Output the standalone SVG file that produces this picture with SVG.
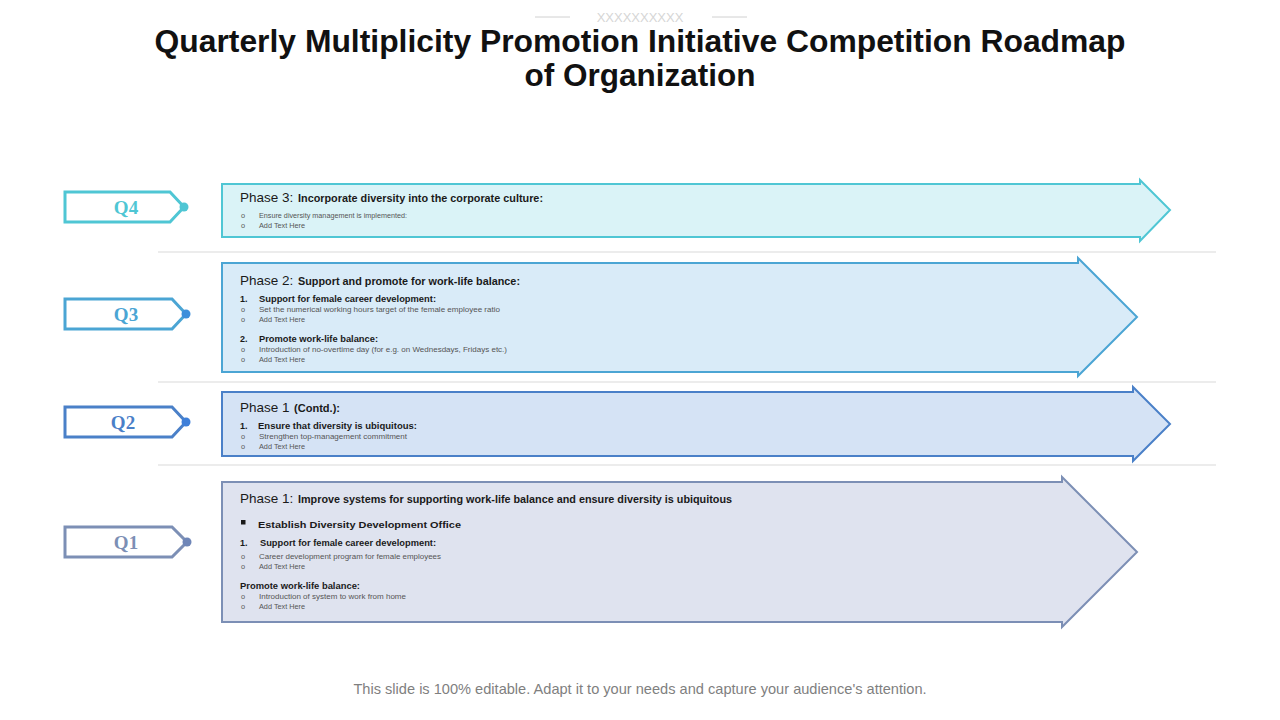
<svg xmlns="http://www.w3.org/2000/svg" width="1280" height="720" viewBox="0 0 1280 720">
<style>
.title{font-family:"Liberation Sans",Arial,sans-serif;font-weight:bold;font-size:31.5px;fill:#111;text-anchor:middle}
.ph{font-family:"Liberation Sans",Arial,sans-serif;font-size:13.5px;fill:#1a1a1a}
.phb{font-family:"Liberation Sans",Arial,sans-serif;font-size:11px;font-weight:bold;fill:#1a1a1a}
.sub{font-family:"Liberation Sans",Arial,sans-serif;font-size:9px;font-weight:bold;fill:#1a1a1a}
.sm{font-family:"Liberation Sans",Arial,sans-serif;font-size:7.3px;fill:#555}
.q{font-family:"Liberation Serif","DejaVu Serif",serif;font-weight:bold;font-size:19px;text-anchor:middle}
.sep{stroke:#d9d9d9;stroke-width:1}
.foot{font-family:"Liberation Sans",Arial,sans-serif;font-size:14.6px;fill:#7f7f7f;text-anchor:middle}
</style>
<rect width="1280" height="720" fill="#fff"/>
<g id="header">
<line x1="535" y1="17" x2="570" y2="17" stroke="#d0d0d0"/>
<line x1="712" y1="17" x2="747" y2="17" stroke="#d0d0d0"/>
<text x="640" y="22" font-family="Liberation Sans,Arial,sans-serif" font-size="13" fill="#d6d6d6" text-anchor="middle">XXXXXXXXXX</text>
<text class="title" x="640" y="52" textLength="971" lengthAdjust="spacingAndGlyphs">Quarterly Multiplicity Promotion Initiative Competition Roadmap</text>
<text class="title" x="640" y="86">of Organization</text>
</g>
<g id="separators">
<line class="sep" x1="158" y1="252" x2="1216" y2="252"/>
<line class="sep" x1="158" y1="382" x2="1216" y2="382"/>
<line class="sep" x1="158" y1="465" x2="1216" y2="465"/>
</g>
<g id="connectors"></g>
<g id="q4">
<path d="M65,192 H170 L184,207 L170,222 H65 Z" fill="#fff" stroke="#4FC6D4" stroke-width="3"/>
<circle cx="184" cy="207" r="4.5" fill="#4FC6D4"/>
<text class="q" x="126" y="214" fill="#4FC6D4">Q4</text>
</g>
<g id="q3">
<path d="M65,299 H172 L186,314 L172,329 H65 Z" fill="#fff" stroke="#4BA5D4" stroke-width="3"/>
<circle cx="186" cy="314" r="4.5" fill="#3D8FDB"/>
<text class="q" x="126" y="321" fill="#4BA5D4">Q3</text>
</g>
<g id="q2">
<path d="M65,407 H172 L186,422 L172,437 H65 Z" fill="#fff" stroke="#4A80C8" stroke-width="3"/>
<circle cx="186" cy="422" r="4.5" fill="#3E7FD9"/>
<text class="q" x="123" y="429" fill="#4A80C8">Q2</text>
</g>
<g id="q1">
<path d="M65,527 H172 L187,542 L172,557 H65 Z" fill="#fff" stroke="#7C8FB5" stroke-width="3"/>
<circle cx="187" cy="542" r="4.5" fill="#6F86B8"/>
<text class="q" x="126" y="549" fill="#7C8FB5">Q1</text>
</g>
<g id="phase3">
<path d="M222,184 H1140 V180 L1170,210 L1140,241 V237 H222 Z" fill="#DAF3F7" stroke="#4FC6D4" stroke-width="2"/>
<text class="ph" x="240" y="202">Phase 3:</text>
<text class="phb" x="298" y="202" textLength="245" lengthAdjust="spacingAndGlyphs">Incorporate diversity into the corporate culture:</text>
<text class="sm" x="241" y="218">o</text><text class="sm" x="259" y="218" textLength="148" lengthAdjust="spacingAndGlyphs">Ensure  diversity management  is implemented:</text>
<text class="sm" x="241" y="228">o</text><text class="sm" x="259" y="228">Add Text Here</text>
</g>
<g id="phase2">
<path d="M222,263 H1078 V258 L1137,317 L1078,376 V372 H222 Z" fill="#D9EBF8" stroke="#4BA5D4" stroke-width="2"/>
<text class="ph" x="240" y="285">Phase 2:</text>
<text class="phb" x="298" y="285" textLength="222" lengthAdjust="spacingAndGlyphs">Support and promote for work-life balance:</text>
<text class="sub" x="240" y="302">1.</text><text class="sub" x="259" y="302" textLength="177" lengthAdjust="spacingAndGlyphs">Support for female career development:</text>
<text class="sm" x="241" y="312">o</text><text class="sm" x="259" y="312" textLength="241" lengthAdjust="spacingAndGlyphs">Set the numerical  working hours target of the female employee ratio</text>
<text class="sm" x="241" y="322">o</text><text class="sm" x="259" y="322">Add Text Here</text>
<text class="sub" x="240" y="342">2.</text><text class="sub" x="259" y="342" textLength="119" lengthAdjust="spacingAndGlyphs">Promote work-life balance:</text>
<text class="sm" x="241" y="352">o</text><text class="sm" x="259" y="352" textLength="248" lengthAdjust="spacingAndGlyphs">Introduction  of no-overtime day (for e.g. on Wednesdays,  Fridays etc.)</text>
<text class="sm" x="241" y="362">o</text><text class="sm" x="259" y="362">Add Text Here</text>
</g>
<g id="phase1c">
<path d="M222,392 H1133 V387 L1170,424 L1133,461 V456 H222 Z" fill="#D5E3F5" stroke="#4A80C8" stroke-width="2"/>
<text class="ph" x="240" y="412">Phase 1</text>
<text class="phb" x="294" y="412" textLength="46" lengthAdjust="spacingAndGlyphs">(Contd.):</text>
<text class="sub" x="240" y="429">1.</text><text class="sub" x="258" y="429" textLength="159" lengthAdjust="spacingAndGlyphs">Ensure that diversity is ubiquitous:</text>
<text class="sm" x="241" y="439">o</text><text class="sm" x="259" y="439" textLength="148" lengthAdjust="spacingAndGlyphs">Strengthen  top-management  commitment</text>
<text class="sm" x="241" y="449">o</text><text class="sm" x="259" y="449">Add Text Here</text>
</g>
<g id="phase1">
<path d="M222,482 H1062 V477 L1137,552 L1062,627 V622 H222 Z" fill="#DFE3EF" stroke="#7C8FB5" stroke-width="2"/>
<text class="ph" x="240" y="503">Phase 1:</text>
<text class="phb" x="298" y="503" textLength="434" lengthAdjust="spacingAndGlyphs">Improve systems for supporting work-life balance and ensure diversity is ubiquitous</text>
<rect x="241" y="520" width="4.5" height="4.5" fill="#1a1a1a"/>
<text class="sub" x="258" y="528" font-size="10" textLength="203" lengthAdjust="spacingAndGlyphs">Establish Diversity Development Office</text>
<text class="sub" x="240" y="546">1.</text><text class="sub" x="260" y="546" textLength="176" lengthAdjust="spacingAndGlyphs">Support for female career development:</text>
<text class="sm" x="241" y="559">o</text><text class="sm" x="259" y="559" textLength="182" lengthAdjust="spacingAndGlyphs">Career development  program  for  female employees</text>
<text class="sm" x="241" y="569">o</text><text class="sm" x="259" y="569">Add Text Here</text>
<text class="sub" x="240" y="589" textLength="120" lengthAdjust="spacingAndGlyphs">Promote work-life balance:</text>
<text class="sm" x="241" y="599">o</text><text class="sm" x="259" y="599" textLength="147" lengthAdjust="spacingAndGlyphs">Introduction  of system to work from home</text>
<text class="sm" x="241" y="609">o</text><text class="sm" x="259" y="609">Add Text Here</text>
</g>
<g id="footer">
<text class="foot" x="640" y="694">This slide is 100% editable. Adapt it to your needs and capture your audience's attention.</text>
</g>
</svg>
